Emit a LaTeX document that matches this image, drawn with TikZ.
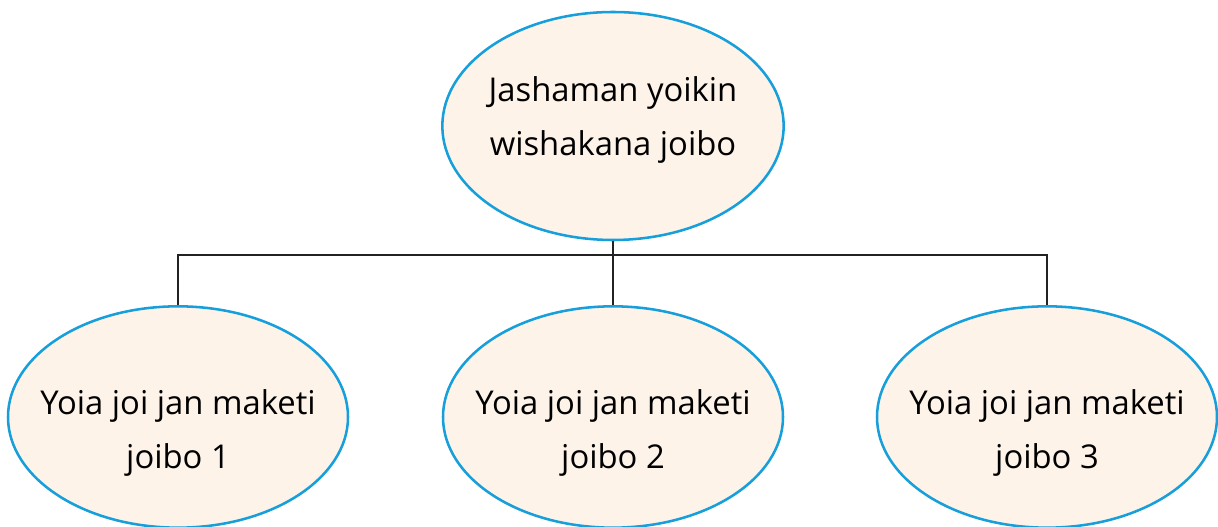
\documentclass[tikz,border=0pt]{standalone}
\usepackage{fontspec}
\setmainfont{Open Sans}
\usepackage{xcolor}
\usepackage{tikz}
\usetikzlibrary{shapes.geometric}
\definecolor{rim}{HTML}{169FDB}
\definecolor{cream}{HTML}{FDF3E9}
\definecolor{wire}{HTML}{222222}
\tikzset{
  bubble/.style={ellipse, draw=rim, fill=cream, line width=1.9pt, inner sep=0pt},
  top/.style={bubble, minimum width=256pt, minimum height=171pt},
  leaf/.style={bubble, minimum width=255pt, minimum height=166pt},
  say/.style={align=center, inner sep=0pt, font=\fontsize{24.6}{41}\selectfont},
  link/.style={draw=wire, line width=0.8pt},
}

\begin{document}
\begin{tikzpicture}[x=0.75pt,y=-0.75pt]
  \useasboundingbox (0,0) rectangle (1218,527);
  % ellipses
  \node[top] (root) at (613,126) {};
  \node[leaf] (k1) at (178,417) {};
  \node[leaf] (k2) at (613,417) {};
  \node[leaf] (k3) at (1047,417) {};
  % texts
  \node[say] (rootT) at (613,120) {Jashaman yoikin\\wishakana joibo};
  \node[say] (k1T) at (178,433) {Yoia joi jan maketi\\joibo 1};
  \node[say] (k2T) at (613,433) {Yoia joi jan maketi\\joibo 2};
  \node[say] (k3T) at (1047,433) {Yoia joi jan maketi\\joibo 3};
  % tree lines
  \coordinate (hub) at (613,255);
  \draw[link] (root.south) -- (hub);
  \draw[link] (k1.north) |- (hub) -| (k3.north);
  \draw[link] (hub) -- (k2.north);
\end{tikzpicture}
\end{document}
